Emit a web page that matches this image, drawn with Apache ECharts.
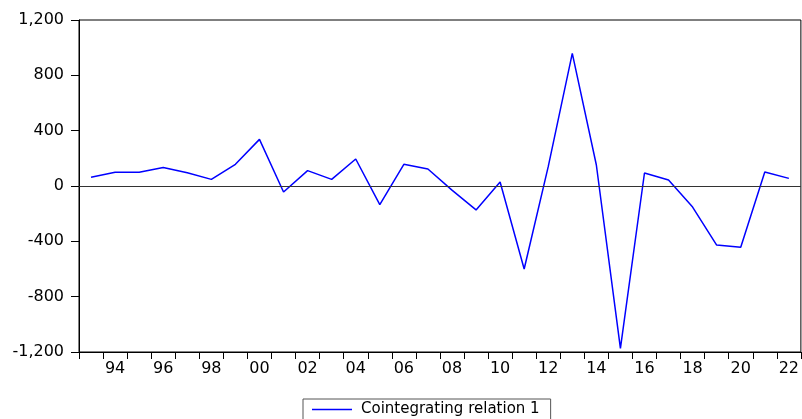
<!DOCTYPE html>
<html>
<head>
<meta charset="utf-8">
<script src="https://cdn.jsdelivr.net/npm/echarts@6/dist/echarts.min.js"></script>
<style>
html,body{margin:0;padding:0;background:#fff;}
#chart{width:802px;height:419px;}
</style>
</head>
<body>
<div id="chart"></div>
<script>
const years = ['1993','1994','1995','1996','1997','1998','1999','2000','2001','2002',
  '2003','2004','2005','2006','2007','2008','2009','2010','2011','2012',
  '2013','2014','2015','2016','2017','2018','2019','2020','2021','2022'];
const relation1 = [63, 99, 99, 133, 96, 48, 157, 337, -43, 111,
  48, 195, -135, 157, 123, -30, -173, 29, -600, 140,
  959, 152, -1174, 94, 43, -152, -427, -443, 101, 55];
const seriesName = 'Cointegrating relation 1';
const yTicks = [-1200, -800, -400, 0, 400, 800, 1200];

const chart = echarts.init(document.getElementById('chart'), null, {renderer: 'canvas'});
const fontFamily = 'DejaVu Sans';
function fmt(v) {
  const s = Math.abs(v).toString().replace(/\B(?=(\d{3})+(?!\d))/g, ',');
  return (v < 0 ? '-' : '') + s;
}
chart.setOption({
  animation: false,
  backgroundColor: '#ffffff',
  grid: {
    left: 79, right: -1, top: 20, bottom: 67,
    show: true, borderColor: '#000', borderWidth: 1, containLabel: false
  },
  legend: {
    data: [{name: seriesName, icon: 'rect'}],
    left: 303, top: 399,
    borderColor: '#555', borderWidth: 1, borderRadius: 0,
    padding: [3, 11, 8, 9],
    itemWidth: 40, itemHeight: 1.3,
    itemGap: 0,
    itemStyle: {color: '#0000ff'},
    textStyle: {fontFamily: fontFamily, fontSize: 15, color: '#000', padding: [0, 0, 0, 4]}
  },
  xAxis: {
    type: 'category',
    data: years,
    boundaryGap: true,
    axisLine: {onZero: false, lineStyle: {color: '#000', width: 1}},
    axisTick: {show: true, interval: 0, alignWithLabel: false, length: 7, lineStyle: {color: '#000', width: 1}},
    axisLabel: {
      interval: function (i) { return i % 2 === 1; },
      formatter: function (v) { return v.slice(2); },
      fontFamily: fontFamily, fontSize: 16, color: '#000', margin: 9
    },
    splitLine: {show: false}
  },
  yAxis: {
    type: 'value',
    min: yTicks[0], max: yTicks[yTicks.length - 1], interval: 400,
    axisLine: {show: true, lineStyle: {color: '#000', width: 1}},
    axisTick: {show: true, length: 8, lineStyle: {color: '#000', width: 1}},
    axisLabel: {
      formatter: fmt,
      fontFamily: fontFamily, fontSize: 16, color: '#000', margin: 15
    },
    splitLine: {show: false}
  },
  series: [{
    name: seriesName,
    type: 'line',
    data: relation1,
    symbol: 'none',
    showSymbol: false,
    lineStyle: {color: '#0000ff', width: 1.5},
    itemStyle: {color: '#0000ff'},
    markLine: {
      silent: true,
      symbol: ['none', 'none'],
      label: {show: false},
      lineStyle: {color: '#333', width: 1.2, type: 'solid'},
      data: [{yAxis: 0}]
    },
    z: 3
  }]
});
</script>
</body>
</html>
